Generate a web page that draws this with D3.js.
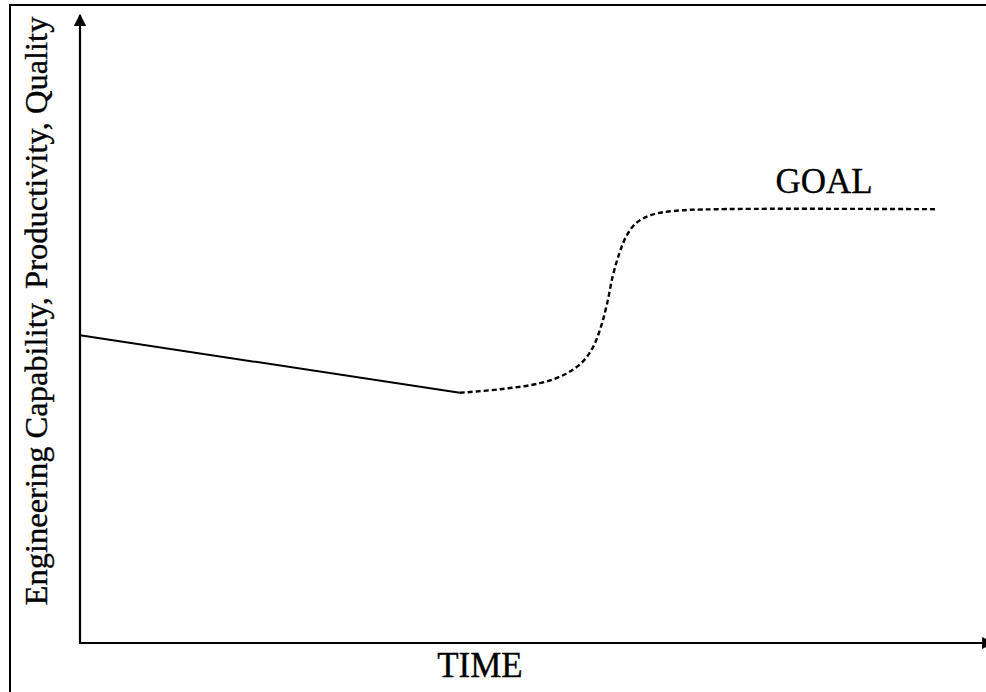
<!DOCTYPE html>
<html>
<head>
<meta charset="utf-8">
<script src="https://cdn.jsdelivr.net/npm/d3@7"></script>
<style>
  html, body { margin: 0; padding: 0; background: #fff; }
  svg { display: block; }
  text { font-family: "Liberation Serif", "Times New Roman", serif; fill: #000; stroke: #000; stroke-width: 0.35; }
</style>
</head>
<body>
<svg id="chart"></svg>
<script>
const W = 986;
const H = 692;

// time / level in arbitrary units (0..100)
const pastTime = [0, 42.2];
const pastLevel = [51.3, 41.7];
const goalTime = [42.2, 46.7, 51.1, 53.9, 55.8, 57.0, 57.9, 58.6, 59.2, 59.9, 60.7, 61.8, 63.4, 65.9, 70.8, 95];
const goalLevel = [41.7, 42.3, 43.3, 44.8, 46.8, 49.3, 52.8, 56.8, 61.2, 64.8, 67.8, 70, 71.3, 72, 72.3, 72.3];

const xTitle = "TIME";
const yTitle = "Engineering Capability, Productivity, Quality";
const goalLabel = "GOAL";

const margin = { left: 80, bottom: 49, top: 43 };

const svg = d3.select("#chart").attr("width", W).attr("height", H);

const x = d3.scaleLinear().domain([0, 100]).range([margin.left, 980]);
const y = d3.scaleLinear().domain([0, 100]).range([H - margin.bottom, margin.top]);

// frame (top and left edges)
svg.append("path")
  .attr("d", `M10,${H} V5 H${W}`)
  .attr("fill", "none")
  .attr("stroke", "#000")
  .attr("stroke-width", 2);

const defs = svg.append("defs");
defs.append("marker")
  .attr("id", "arrow")
  .attr("viewBox", "0 0 10 10")
  .attr("refX", 9)
  .attr("refY", 5)
  .attr("markerWidth", 6)
  .attr("markerHeight", 5.5)
  .attr("markerUnits", "strokeWidth")
  .attr("orient", "auto")
  .append("path")
  .attr("d", "M0,0 L10,5 L0,10 Z")
  .attr("fill", "#000");

const x0 = x(0);
const y0 = y(0);

// axes
svg.append("line")
  .attr("x1", x0).attr("y1", y0 + 1)
  .attr("x2", x0).attr("y2", 15)
  .attr("stroke", "#000").attr("stroke-width", 2.2)
  .attr("marker-end", "url(#arrow)");

svg.append("line")
  .attr("x1", x0 - 1).attr("y1", y0)
  .attr("x2", 993).attr("y2", y0)
  .attr("stroke", "#000").attr("stroke-width", 2.2)
  .attr("marker-end", "url(#arrow)");

const line = d3.line()
  .x((d) => x(d[0]))
  .y((d) => y(d[1]))
  .curve(d3.curveCatmullRom.alpha(0.5));

svg.append("path")
  .datum(d3.zip(pastTime, pastLevel))
  .attr("d", line)
  .attr("fill", "none")
  .attr("stroke", "#000")
  .attr("stroke-width", 2);

svg.append("path")
  .datum(d3.zip(goalTime, goalLevel))
  .attr("d", line)
  .attr("fill", "none")
  .attr("stroke", "#000")
  .attr("stroke-width", 2.4)
  .attr("stroke-dasharray", "5,3");

svg.append("text")
  .attr("x", 824)
  .attr("y", 193)
  .attr("text-anchor", "middle")
  .attr("font-size", 35)
  .text(goalLabel);

svg.append("text")
  .attr("x", 480)
  .attr("y", 677)
  .attr("text-anchor", "middle")
  .attr("font-size", 35)
  .text(xTitle);

svg.append("text")
  .attr("transform", "translate(47,311) rotate(-90)")
  .attr("text-anchor", "middle")
  .attr("font-size", 32.5)
  .text(yTitle);
</script>
</body>
</html>
